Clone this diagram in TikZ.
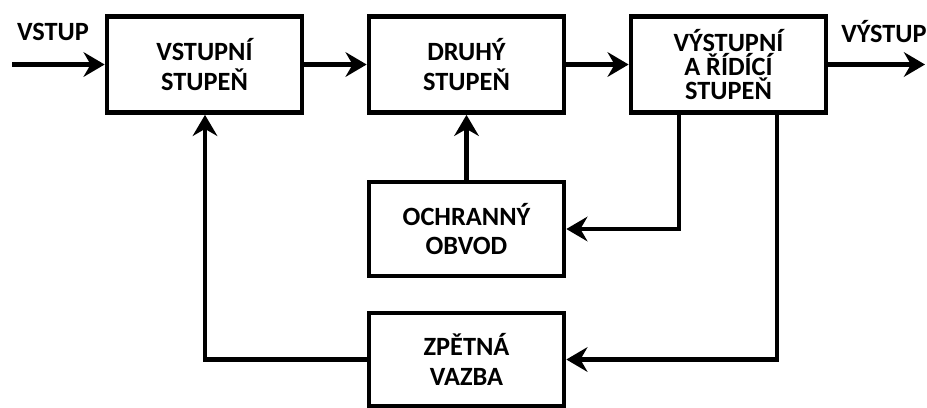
\documentclass[tikz,border=0pt]{standalone}
\usepackage{fontspec}
\setmainfont{Carlito}
\usetikzlibrary{arrows.meta}

\begin{document}
\begin{tikzpicture}[x=0.02cm, y=-0.02cm, line width=2.7pt, font=\fontsize{15}{17}\selectfont\bfseries, -{Stealth[length=12pt,width=14pt,inset=4pt]},
	blok/.style={draw, rectangle, minimum width=3.9cm, minimum height=1.92cm, align=center, inner sep=0pt}]
	\useasboundingbox (0,0) rectangle (927,407);
	\node[blok] (vstupni) at (204.5,64.5) {VSTUPNÍ\\STUPEŇ};
	\node[blok] (druhy) at (466.5,64.5) {DRUHÝ\\STUPEŇ};
	\node[blok, font=\fontsize{15}{13.6}\selectfont\bfseries] (vystupni) at (728.5,64.5) {VÝSTUPNÍ\\A ŘÍDÍCÍ\\STUPEŇ};
	\node[blok, minimum height=1.88cm] (ochrana) at (466.5,229) {OCHRANNÝ\\OBVOD};
	\node[blok, minimum height=1.86cm] (zpetna) at (466.5,359.5) {ZPĚTNÁ\\VAZBA};
	\node (vstup) at (53,32) {VSTUP};
	\node (vystup) at (884,32) {VÝSTUP};
	\coordinate (vin) at (12,64.5);
	\coordinate (vout) at (925,64.5);
	\draw (vin) -- (vstupni);
	\draw (vstupni) -- (druhy);
	\draw (druhy) -- (vystupni);
	\draw (vystupni) -- (vout);
	\draw (ochrana) -- (druhy);
	\draw (vystupni.south -| 679,0) |- (ochrana.east);
	\draw (vystupni.south -| 777,0) |- (zpetna.east);
	\draw (zpetna.west) -| (vstupni.south -| 205,0);
\end{tikzpicture}
\end{document}
